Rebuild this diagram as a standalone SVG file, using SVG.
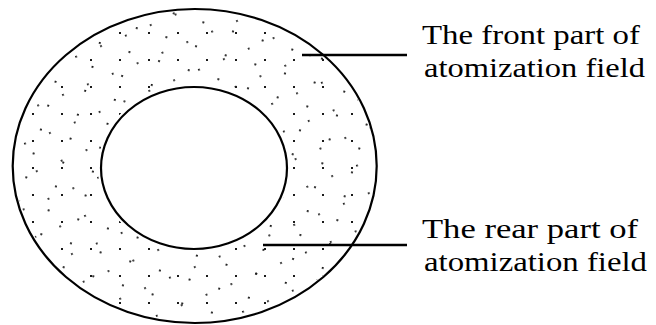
<svg xmlns="http://www.w3.org/2000/svg" width="656" height="325" viewBox="0 0 656 325">
<style>
.outline{fill:none;stroke:#000;stroke-width:2.2}
.lead{stroke:#000;stroke-width:2.6;fill:none}
.lbl{font-family:"Liberation Serif","Times New Roman",serif;font-size:28px;fill:#000}
.dot{fill:#1a1a1a}
</style>
<defs>
<pattern id="d1" width="29" height="27" patternUnits="userSpaceOnUse"><rect class="dot" x="3" y="5" width="2" height="2"/></pattern>
<pattern id="d2" width="31" height="25" patternUnits="userSpaceOnUse" patternTransform="rotate(17)"><rect class="dot" x="14" y="11" width="2" height="1.8"/></pattern>
<pattern id="d3" width="27" height="30" patternUnits="userSpaceOnUse" patternTransform="rotate(-23)"><rect class="dot" x="20" y="21" width="1.8" height="1.8"/></pattern>
<path id="ring" fill-rule="evenodd" d="M 15,166 a180,155 0 1,0 360,0 a180,155 0 1,0 -360,0 Z M 98,168 a96,84 0 1,0 192,0 a96,84 0 1,0 -192,0 Z"/>
</defs>
<rect width="656" height="325" fill="#fff"/>
<g id="atomization-field">
<use href="#ring" fill="url(#d1)"/>
<use href="#ring" fill="url(#d2)"/>
<use href="#ring" fill="url(#d3)"/>
<ellipse class="outline" cx="194.7" cy="166" rx="182" ry="157"/>
</g>
<g id="inner-core">
<ellipse class="outline" cx="194" cy="168" rx="93" ry="81" stroke-width="2.6"/>
</g>
<g id="connectors">
<line class="lead" x1="302" y1="55" x2="407" y2="55"/>
<line class="lead" x1="263" y1="245" x2="407" y2="245"/>
</g>
<g id="label-front">
<text class="lbl" x="422" y="44" textLength="218" lengthAdjust="spacingAndGlyphs">The front part of</text>
<text class="lbl" x="424" y="77" textLength="221" lengthAdjust="spacingAndGlyphs">atomization field</text>
</g>
<g id="label-rear">
<text class="lbl" x="422" y="238" textLength="216" lengthAdjust="spacingAndGlyphs">The rear part of</text>
<text class="lbl" x="424" y="271" textLength="223" lengthAdjust="spacingAndGlyphs">atomization field</text>
</g>
</svg>
